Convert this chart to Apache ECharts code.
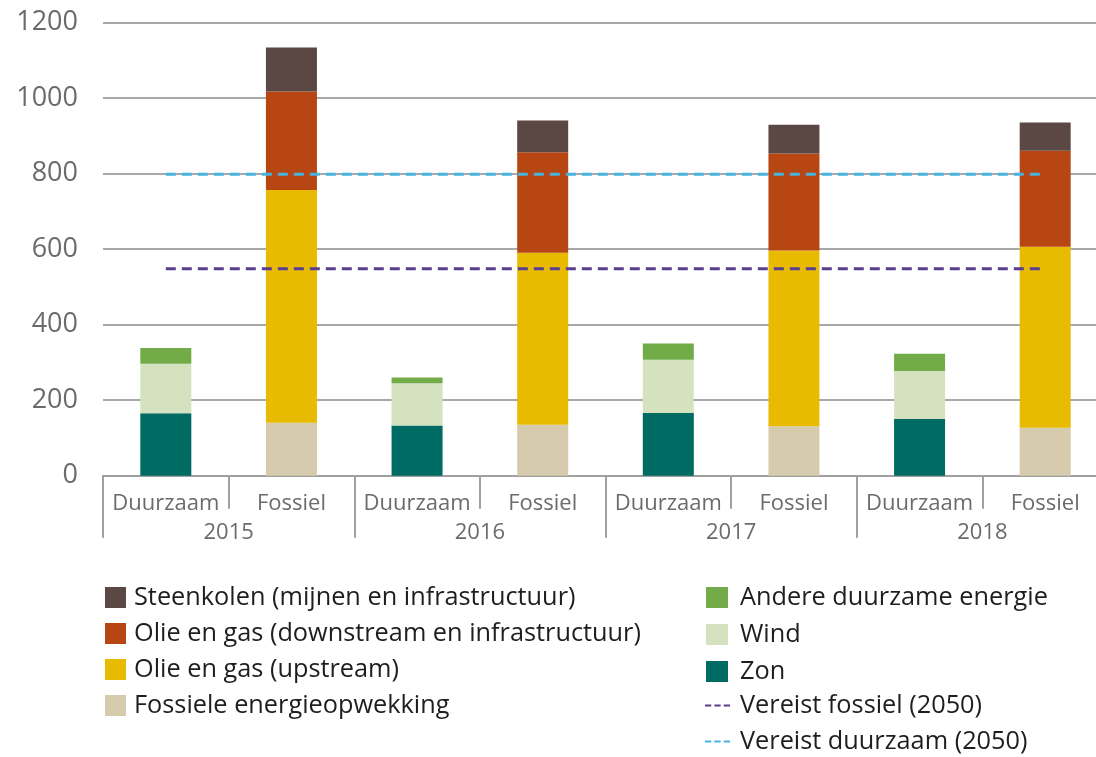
<!DOCTYPE html>
<html><head><meta charset="utf-8">
<script src="https://cdn.jsdelivr.net/npm/echarts@6/dist/echarts.min.js"></script>
<style>html,body{margin:0;padding:0;background:#fff;overflow:hidden}#c{width:1108px;height:757px}</style>
</head><body><div id="c"></div>
<script>
const categories = ['Duurzaam','Fossiel','Duurzaam','Fossiel','Duurzaam','Fossiel','Duurzaam','Fossiel'];
const years = ['2015','2016','2017','2018'];
const yTicks = [0,200,400,600,800,1000,1200];
const zon        = [165,'-',133,'-',166,'-',151,'-'];
const wind       = [131,'-',112,'-',141,'-',126,'-'];
const andere     = [42,'-',15,'-',43,'-',46,'-'];
const fossieleOpwekking = ['-',140,'-',135,'-',131,'-',127];
const upstream   = ['-',616,'-',455,'-',465,'-',479];
const downstream = ['-',261,'-',266,'-',257,'-',254];
const steenkolen = ['-',116,'-',84,'-',76,'-',75];
const vereistFossiel  = [548,548,548,548,548,548,548,548];
const vereistDuurzaam = [798,798,798,798,798,798,798,798];

const FONT = 'Open Sans';
const axisGrey = '#6b6b6b';
const chart = echarts.init(document.getElementById('c'), null, {renderer:'canvas'});
function bar(name, data, color){
  return {name, type:'bar', stack:'s', data, barWidth:51, xAxisIndex:0,
    itemStyle:{color}, emphasis:{disabled:true}};
}
function line(name, data, color){
  return {name, type:'line', data, xAxisIndex:0, symbol:'none', z:5,
    lineStyle:{color, width:3, type:[10,6]}, itemStyle:{color}, emphasis:{disabled:true}};
}
const dashIcon = 'path://M0,0H6V2H0Z M9,0H15V2H9Z M18,0H24V2H18Z';
const legendText = {fontFamily:FONT, fontSize:25.3, color:'#1e1e1e', lineHeight:24, padding:[0,0,0,3]};
chart.setOption({
  animation:false,
  grid:{left:103, right:0, top:22.3, bottom:281.3, containLabel:false},
  xAxis:[
    {type:'category', data:categories, position:'bottom',
     axisLine:{lineStyle:{color:'#a0a0a0', width:2}},
     axisTick:{show:true, length:33, interval:0, lineStyle:{color:'#a0a0a0', width:2}},
     axisLabel:{interval:0, color:axisGrey, fontFamily:FONT, fontSize:22, margin:17}},
    {type:'category', data:years, position:'bottom', offset:0,
     axisLine:{show:false},
     axisTick:{show:true, length:62, interval:0, lineStyle:{color:'#a0a0a0', width:2}},
     axisLabel:{interval:0, color:axisGrey, fontFamily:FONT, fontSize:22, margin:46}}
  ],
  yAxis:{type:'value', min:yTicks[0], max:yTicks[yTicks.length-1], interval:200,
    axisLine:{show:false}, axisTick:{show:false},
    splitLine:{lineStyle:{color:'#a8a8a8', width:2}},
    axisLabel:{color:axisGrey, fontFamily:FONT, fontSize:27, margin:25, formatter:v=>String(v)}},
  legend:[
    {orient:'vertical', left:100, top:580, height:170, itemWidth:21, itemHeight:21, itemGap:11, icon:'rect',
     textStyle:legendText,
     data:['Steenkolen (mijnen en infrastructuur)','Olie en gas (downstream en infrastructuur)','Olie en gas (upstream)','Fossiele energieopwekking']},
    {orient:'vertical', left:701, top:580, height:120, itemWidth:22, itemHeight:21, itemGap:12, icon:'rect',
     textStyle:Object.assign({}, legendText, {padding:[0,0,0,7]}),
     data:['Andere duurzame energie','Wind','Zon']},
    {orient:'vertical', left:700, top:688, height:70, itemWidth:25, itemHeight:3, itemGap:11, icon:dashIcon,
     textStyle:Object.assign({}, legendText, {padding:[0,0,0,5]}),
     data:['Vereist fossiel (2050)','Vereist duurzaam (2050)']}
  ],
  series:[
    bar('Zon', zon, '#006b63'),
    bar('Wind', wind, '#d4e2bf'),
    bar('Andere duurzame energie', andere, '#72ac48'),
    bar('Fossiele energieopwekking', fossieleOpwekking, '#d7cbae'),
    bar('Olie en gas (upstream)', upstream, '#e9bb00'),
    bar('Olie en gas (downstream en infrastructuur)', downstream, '#b84612'),
    bar('Steenkolen (mijnen en infrastructuur)', steenkolen, '#5b4845'),
    line('Vereist fossiel (2050)', vereistFossiel, '#5a3d91'),
    line('Vereist duurzaam (2050)', vereistDuurzaam, '#47b4df')
  ]
});
</script></body></html>
